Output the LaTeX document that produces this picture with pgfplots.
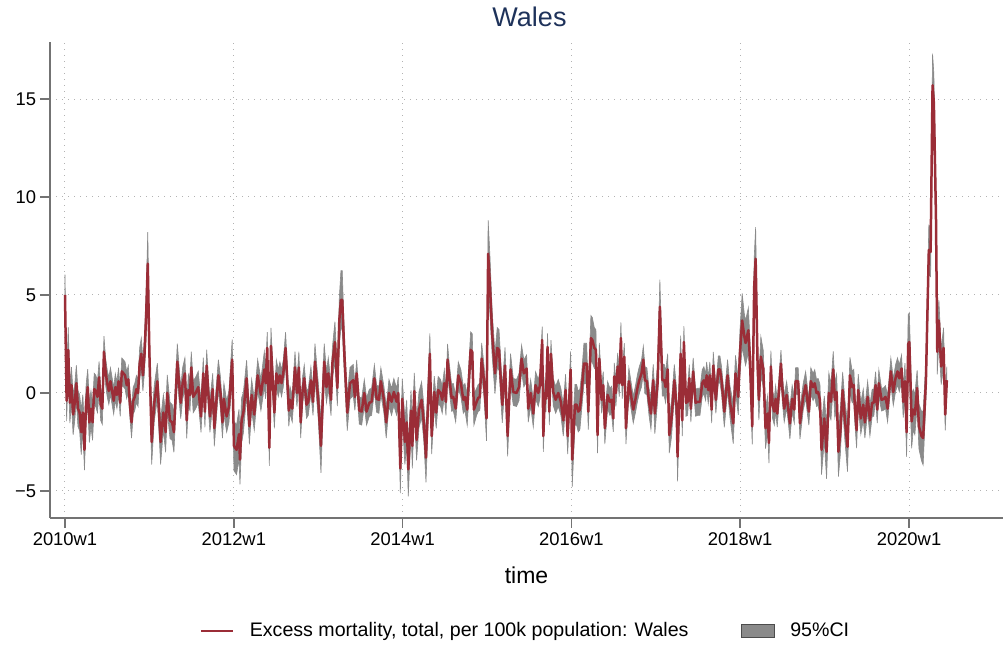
\documentclass[border=0pt]{standalone}
\usepackage{fontspec}
\setmainfont{Liberation Sans}
\usepackage{pgfplots}
\pgfplotsset{compat=1.18}
\usepgfplotslibrary{fillbetween}
\usepackage{pgfplotstable}
\definecolor{exline}{RGB}{155,45,55}
\definecolor{cigray}{RGB}{138,138,138}
\definecolor{titlecol}{RGB}{30,50,90}
\definecolor{axcol}{RGB}{115,115,115}

\pgfplotstableread{
x y e
0 5.0 0.9
1 -0.4 0.9
2 2.2 1.0
3 -0.5 0.9
4 0.4 0.8
5 -1.1 0.9
6 -0.5 0.8
7 0.5 0.8
8 -0.8 0.8
9 -1.0 0.8
10 -2.0 1.0
11 -1.0 0.8
12 -2.9 0.9
13 -0.5 0.8
14 0.3 0.8
15 -1.5 0.9
16 -0.8 0.8
17 -1.5 0.8
18 0.2 0.7
19 0.1 0.7
20 -0.2 0.7
21 0.8 0.7
22 -0.6 0.7
23 -0.8 0.7
24 2.1 0.7
25 1.1 0.6
26 0.5 0.6
27 0.1 0.6
28 0.6 0.6
29 0.1 0.6
30 -0.4 0.6
31 0.3 0.6
32 -0.1 0.6
33 0.6 0.6
34 -0.5 0.6
35 1.1 0.6
36 1.0 0.6
37 0.9 0.6
38 0.4 0.6
39 0.7 0.6
40 -0.6 0.6
41 -1.5 0.7
42 -0.4 0.6
43 -0.2 0.6
44 0.2 0.6
45 0.0 0.6
46 1.5 0.7
47 2.0 0.7
48 0.9 0.7
49 2.0 0.8
50 4.0 1.0
51 6.6 1.4
52 2.0 1.0
53.4 -2.5 1.0
55 -0.5 0.8
56.9 0.6 0.8
58.9 -2.5 1.0
60.6 -1.0 0.8
62 -2.0 0.9
63 0.0 0.8
64.7 -1.4 0.8
66 -1.5 0.8
67.1 -2.0 0.9
69.2 1.6 0.8
71.3 -0.5 0.7
72.5 0.5 0.7
73.9 1.0 0.7
75 -1.4 0.8
76 0.15 0.7
77 -0.1 0.7
77.8 1.3 0.7
79 -0.2 0.7
80.5 0.0 0.7
82.1 0.3 0.7
83.8 -1.2 0.7
85.2 1.0 0.7
86.2 -0.95 0.7
87.3 1.4 0.7
88.3 0.0 0.7
89.3 -1.2 0.7
91 0.2 0.7
92 -1.8 0.8
94.5 0.9 0.7
95.8 0.0 0.7
97 -1.5 0.7
97.9 -0.3 0.7
99.6 -1.2 0.7
101 -0.7 0.7
103 1.7 0.9
104.1 -2.7 1.1
105.7 -2.9 1.1
107.2 -2.1 1.1
107.8 -3.4 1.1
108.8 -1.4 1.0
109.9 -1.0 0.9
111.9 0.75 0.8
113.6 -1.7 0.8
115 -0.1 0.7
116.6 -1.1 0.7
118.7 0.9 0.7
120.7 -0.1 0.7
122.8 1.2 0.8
123.6 0.5 0.7
124.6 2.3 0.7
125.9 -2.8 0.8
126.9 2.4 0.8
129 -1.0 0.7
130.2 1.0 0.6
131.4 0.5 0.6
132.4 0.9 0.6
133.4 0.5 0.6
134.5 1.0 0.6
135.9 2.3 0.7
137.9 -0.9 0.7
138.6 -0.35 0.6
140 -0.8 0.6
141.7 1.3 0.7
142.9 0.0 0.6
144.1 1.3 0.7
145.2 -1.5 0.7
146.4 0.15 0.6
147.4 0.75 0.6
148.8 -0.6 0.6
149.9 -0.45 0.6
151.5 0.65 0.6
152.8 -0.45 0.6
154 1.6 0.8
156 -0.35 0.8
157.7 -2.7 1.2
159.7 1.6 0.8
161.1 0.3 0.7
162.2 1.0 0.7
163.9 -0.35 0.7
164.7 1.5 0.7
166.3 2.6 0.9
167.8 0.25 0.8
169 3.7 1.0
170 4.75 1.3
170.8 4.75 1.3
172.1 2.0 0.9
173.9 -1.0 0.8
175.6 0.5 0.7
177.6 0.65 0.7
178.6 -0.2 0.6
179.7 1.0 0.6
181.3 -0.9 0.6
182.8 -0.95 0.6
184.4 0.0 0.6
185.8 -0.95 0.6
187.5 -0.5 0.6
188.9 -0.45 0.6
190.6 0.75 0.6
192 -0.3 0.6
193.4 -0.35 0.6
194.6 0.6 0.6
196.5 -0.35 0.6
197.9 -1.5 0.7
199.6 0.0 0.6
201.2 -0.45 0.6
202.6 0.05 0.6
204.3 -0.45 0.6
205.3 0.0 0.7
206.6 -3.85 1.1
207.8 -0.3 0.9
209.4 -2.5 1.0
210.5 -1.5 1.0
211.5 -3.9 1.2
213.2 -0.9 0.9
214 -2.7 1.0
215.2 0.1 0.8
216.6 -2.4 0.9
218.1 -0.85 0.8
219.7 -0.35 0.8
221.1 -1.55 0.8
222.4 -3.3 1.1
224.8 2.0 0.9
225.9 -2.2 0.8
227.5 0.05 0.7
228.7 -1.0 0.7
229.9 0.15 0.6
231.4 0.0 0.6
232.4 -0.35 0.6
233.7 0.5 0.6
234.7 -0.45 0.6
235.7 1.7 0.7
236.7 0.85 0.6
238.2 -0.25 0.6
239.2 -0.2 0.6
240.7 -0.8 0.6
242.3 0.9 0.6
243.9 0.5 0.6
245.4 -0.35 0.6
246.4 -0.2 0.6
247.8 -0.85 0.7
249.9 2.2 0.8
250.9 2.1 0.8
251.9 -0.85 0.7
253.6 -0.45 0.6
254.6 -0.25 0.6
255.6 -0.2 0.6
256.7 1.75 0.7
258.1 0.65 0.7
259.7 -1.3 1.0
260.7 7.1 1.5
261.8 5.5 1.3
263.2 3.0 1.0
264.9 1.0 0.9
266.3 2.3 0.9
267.4 2.2 0.9
269.4 -0.6 0.8
271.1 1.4 0.8
272.7 -2.2 0.9
274.5 1.2 0.7
276.2 0.05 0.6
278.2 0.0 0.6
279.7 0.3 0.6
281.3 1.75 0.6
282.7 1.0 0.6
284.4 1.25 0.6
285.4 -0.8 0.6
286.9 0.0 0.6
288.5 -1.05 0.6
289.9 0.4 0.6
291.6 0.0 0.6
292.6 0.4 0.6
294 2.7 0.6
294.7 -2.2 0.7
295.7 0.0 0.6
296.3 -0.3 0.6
297.3 2.35 0.6
298.4 -0.95 0.6
299.4 2.0 0.6
300.8 0.05 0.6
302.3 -0.35 0.6
303.9 0.0 0.6
305.5 -0.45 0.6
307 -1.4 0.7
308.4 0.15 0.7
309.7 -2.2 0.8
311.5 1.2 0.8
312.5 -3.4 1.2
314.2 -0.6 0.9
315.2 -0.6 0.9
316.2 -0.95 0.9
317.2 -0.85 0.9
318.3 0.05 0.8
319.7 1.5 0.9
321.4 1.5 0.9
322.4 -0.95 0.8
324 2.8 1.0
324.9 2.7 1.0
326.1 2.3 0.9
327.1 2.2 0.9
328.1 -2.15 0.8
329.2 1.75 0.7
330.6 -0.35 0.6
331.6 0.4 0.6
332.6 -1.8 0.7
334.3 -0.1 0.6
335.7 -0.45 0.6
336.7 -0.35 0.6
337.8 -1.3 0.6
338.4 0.85 0.6
339.4 0.0 0.6
340.5 1.35 0.6
341.5 0.5 0.6
342.5 2.8 0.7
343.3 0.4 0.6
344.6 1.85 0.6
345.6 -1.8 0.7
347.4 0.6 0.6
348.7 -0.1 0.6
350.1 -0.85 0.6
351.5 -0.3 0.6
352.8 0.3 0.6
353.8 0.65 0.6
355.2 1.0 0.6
356.3 1.7 0.6
357.3 0.65 0.6
358.5 0.6 0.6
359.8 -0.45 0.6
361 -1.05 0.7
362.4 0.65 0.7
363.4 -1.05 0.9
365.1 0.5 0.8
366.5 4.4 1.2
368 0.65 0.7
369.2 0.65 0.7
370 0.3 0.7
371.3 1.2 0.7
372.3 -2.15 0.8
373.7 -1.3 0.8
375.4 0.65 0.7
376.8 -0.7 0.8
377.4 -3.25 1.1
379.3 2.0 0.8
380.3 -1.4 0.7
381.3 2.6 0.7
382.6 -0.5 0.6
383.6 -0.45 0.6
384.6 0.75 0.6
385.6 -0.8 0.6
387 1.1 0.6
388.5 -0.5 0.6
389.7 -0.45 0.6
391.2 -0.45 0.6
392.6 0.5 0.6
393.6 0.65 0.6
394.7 0.3 0.6
395.3 0.9 0.6
396.3 0.15 0.6
397.3 0.9 0.6
398.4 -0.85 0.6
399.4 1.4 0.6
401 -0.35 0.6
402.5 1.2 0.6
403.5 1.2 0.6
404.5 0.65 0.6
406.2 -0.95 0.7
408.2 0.9 0.7
409.7 -0.45 0.7
411.7 -1.55 0.9
413.1 1.0 0.8
414.8 -0.2 0.8
415.8 2.0 1.0
417.2 3.7 1.2
418.5 2.9 1.0
419.3 2.55 1.0
421 3.2 1.0
422 1.7 0.9
423.4 -1.7 0.8
424.6 5.4 1.3
425.5 6.85 1.4
426.7 1.4 1.0
427.5 -0.35 0.9
428.7 1.85 0.9
430.2 1.25 0.8
431.6 -1.8 0.9
432.9 -1.05 0.8
433.7 -2.55 0.9
434.9 1.35 0.7
435.9 -0.6 0.6
437 -0.95 0.6
437.8 -0.3 0.6
438.8 -1.05 0.6
439.9 0.15 0.6
441.1 1.5 0.6
441.9 0.3 0.6
443.1 -0.8 0.6
444.6 -0.1 0.6
445.6 -0.8 0.6
446.6 -1.55 0.7
448 -0.3 0.6
449.3 -0.85 0.6
450.1 0.6 0.6
451.7 0.6 0.6
452.8 -1.55 0.7
454.8 -0.2 0.6
456.3 0.4 0.6
457.5 -0.45 0.6
458.3 -0.95 0.6
459.5 0.6 0.6
460.9 0.3 0.6
461.9 0.5 0.6
463 0.0 0.6
464 0.05 0.6
465.1 -0.35 0.7
466.1 -2.9 1.1
467.8 -1.3 1.0
469.2 -3.0 1.2
470.6 0.0 0.9
471.9 -0.45 0.8
473.3 1.2 0.8
474.3 -0.35 0.8
475.4 0.05 0.8
476.5 -3.0 1.1
477.7 -1.97 1.0
479.1 0.15 0.8
480.5 -1.4 0.9
482.1 -2.75 1.1
483.6 0.9 0.8
485 0.3 0.7
486 0.4 0.7
486.6 -0.7 0.7
487.7 -1.9 0.8
488.7 0.15 0.7
490.3 -1.3 0.7
491.8 -0.6 0.7
492.8 -1.5 0.7
494.5 -0.2 0.7
495.9 -1.4 0.7
497.3 -0.5 0.6
498.3 -0.5 0.6
499.4 0.4 0.6
500.4 -0.85 0.6
501.4 0.5 0.6
503.1 -0.35 0.5
504.5 -0.3 0.5
505.5 -0.2 0.5
506.8 -0.8 0.6
508.8 1.1 0.6
510.3 0.05 0.6
511.7 0.75 0.6
512.9 1.1 0.6
514 0.75 0.6
515.4 1.25 0.6
516.4 -0.45 0.7
517.5 0.6 0.8
518.5 -2.0 1.1
519.5 2.5 1.3
520.2 2.6 1.3
521.6 -1.45 1.2
522.6 -0.85 0.9
523.6 -1.1 0.9
525 0.25 0.8
526.1 -1.7 1.0
527.7 -2.2 1.1
528.7 -2.3 1.2
530.4 0.6 0.9
532.2 7.3 1.1
533.3 7.2 1.1
534.5 15.7 1.4
535.3 14.8 1.3
536.6 9.0 1.1
537.4 2.1 1.0
538.4 3.7 0.9
539.8 1.35 0.8
541.3 2.3 0.9
542.3 -1.1 0.7
543.3 0.65 0.6
}\wales

\begin{document}
\begin{tikzpicture}[x=1pt,y=1pt]
\begin{axis}[
  at={(0,0)}, anchor=south west,
  scale only axis, width=476.5pt, height=238pt,
  xmin=-9.24, xmax=577.9, ymin=-6.38, ymax=17.91,
  axis x line*=bottom, axis y line*=left,
  axis line style={axcol, line width=1pt, -},
  xtick={0,104,208,312,416,520},
  xticklabels={2010w1,2012w1,2014w1,2016w1,2018w1,2020w1},
  ytick={-5,0,5,10,15},
  yticklabels={−5,0,5,10,15},
  tick align=outside, major tick length=5pt,
  tick style={axcol, line width=0.8pt},
  grid=major,
  major grid style={gray!60, line width=0.5pt, dash pattern=on 0.5pt off 2.5pt},
  ticklabel style={font=\fontsize{9.2}{11}\selectfont},
  xticklabel style={inner ysep=2.3pt},
  yticklabel style={inner xsep=1.7pt},
  title={Wales},
  title style={at={(0.5,1)}, anchor=center, yshift=6.5pt, xshift=1.5pt,
    font=\fontsize{13.5}{16}\selectfont, text=titlecol},
  xlabel={time},
  xlabel style={at={(0.5,0)}, anchor=center, yshift=-28.5pt,
    font=\fontsize{11.5}{14}\selectfont},
  legend style={at={(0.5,0)}, anchor=center, yshift=-56.5pt, draw=none, fill=none,
    font=\fontsize{9.8}{12}\selectfont,
    /tikz/every even column/.append style={column sep=24pt},
    /tikz/every odd column/.append style={column sep=6pt}},
  legend columns=2,
  legend cell align=left,
]
\addlegendimage{legend image code/.code={\draw[exline, line width=1pt] (0pt,0pt) -- (16pt,0pt);}}
\addlegendentry{Excess mortality, total, per 100k population: Wales}
\addlegendimage{legend image code/.code={\draw[fill=cigray, draw=gray!60!black, line width=0.4pt] (0pt,-3.25pt) rectangle (16.5pt,3.25pt);}}
\addlegendentry{95\%CI}

\addplot[draw=none, name path=hi, forget plot] table[x=x, y expr=\thisrow{y}+1.15*\thisrow{e}] {\wales};
\addplot[draw=none, name path=lo, forget plot] table[x=x, y expr=\thisrow{y}-1.15*\thisrow{e}] {\wales};
\addplot[fill=cigray, draw=cigray, line width=0.3pt, forget plot] fill between[of=hi and lo];
\addplot[exline, line width=1.25pt, line join=round, forget plot] table[x=x, y=y] {\wales};
\end{axis}
\pgfresetboundingbox
\path[use as bounding box] (-25,-64) rectangle (477.5,259);
\end{tikzpicture}
\end{document}
